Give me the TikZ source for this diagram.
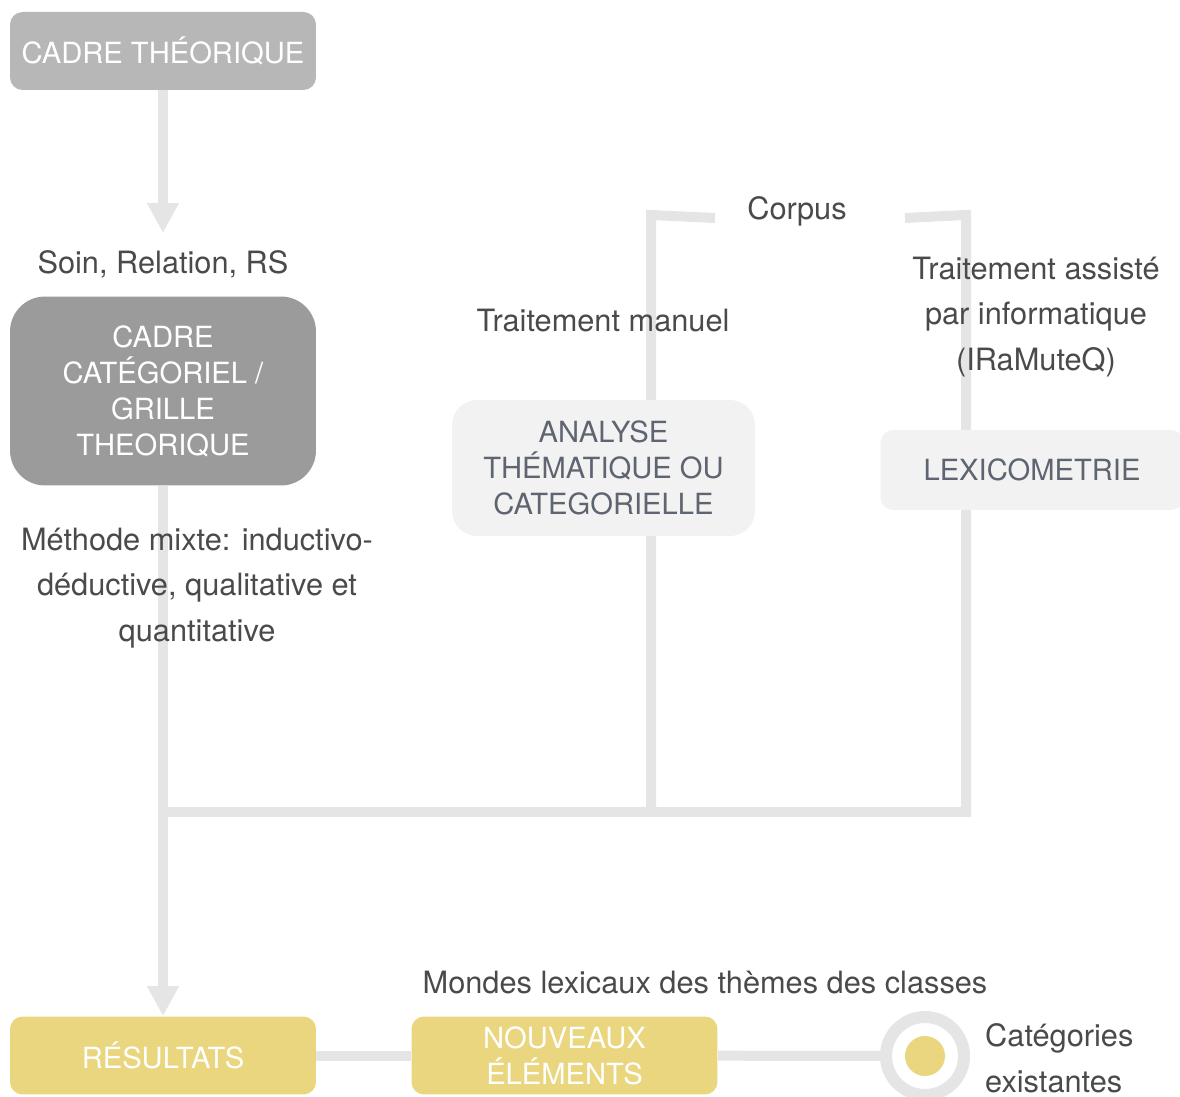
\documentclass[tikz,border=0pt]{standalone}
\usepackage{fontspec}
\setmainfont{TeX Gyre Heros}
\usetikzlibrary{arrows.meta,positioning}

\definecolor{trait}{HTML}{E5E5E5}
\definecolor{theo}{HTML}{B7B7B7}
\definecolor{categ}{HTML}{9B9B9B}
\definecolor{clair}{HTML}{F2F2F2}
\definecolor{jaune}{HTML}{E9D67E}
\definecolor{texte}{HTML}{4A4A4A}
\definecolor{texteboite}{HTML}{5E6570}

\begin{document}
\begin{tikzpicture}[x=0.02cm, y=-0.02cm,
   every node/.style={font=\fontsize{17.5}{26}\selectfont, text=texte, align=center},
   boite/.style={rounded corners=0.25cm, minimum width=6.12cm, minimum height=1.56cm,
                 text=white, font=\fontsize{16.6}{20.5}\selectfont},
   boiteclaire/.style={boite, fill=clair, text=texteboite, minimum width=6.06cm},
   lien/.style={draw=trait, line width=0.2cm},
   fleche/.style={lien, -{Triangle[width=0.6cm,length=0.6cm]}}]

\clip (0,0) rectangle (1180,1097);

% colonne de gauche
\node[boite, fill=theo] (theo) at (163,51) {CADRE THÉORIQUE};
\node (soin) at (163,264) {Soin, Relation, RS};
\node[boite, fill=categ, minimum height=3.78cm, rounded corners=0.7cm] (grille) at (163,391)
    {CADRE\\CATÉGORIEL /\\GRILLE\\THEORIQUE};
\node[boite, fill=jaune] (res) at (163,1055.5) {RÉSULTATS};

\draw[fleche, shorten >=0.22cm] (theo) -- (soin);
\draw[fleche] (grille) -- (res);

\node (methode) at (197,588) {Méthode mixte: inductivo-\\déductive, qualitative et\\quantitative};

% corpus
\coordinate (jonc) at (163,812);
\coordinate (hautg) at (715,218);
\coordinate (coing) at (651,215);
\coordinate (basg) at (651,812);
\coordinate (hautd) at (905,218);
\coordinate (coind) at (966,215);
\coordinate (basd) at (966,812);
\draw[lien] (hautg) -- (coing) -- (basg);
\draw[lien] (hautd) -- (coind) -- (basd) -- (jonc);

\node (corpus) at (797,211) {Corpus};
\node (manuel) at (603,321) {Traitement manuel};
\node (assiste) at (1036,317) {Traitement assisté\\par informatique\\(IRaMuteQ)};
\node[boiteclaire, minimum height=2.72cm, rounded corners=0.5cm] (analyse) at (603.5,468)
    {ANALYSE\\THÉMATIQUE OU\\CATEGORIELLE};
\node[boiteclaire, minimum height=1.6cm] (lexico) at (1032,470) {LEXICOMETRIE};

% resultats
\node (mondes) at (705,983) {Mondes lexicaux des thèmes des classes};
\node[boite, fill=jaune] (nouv) at (564.5,1055.5) {NOUVEAUX\\ÉLÉMENTS};
\node[circle, draw=trait, line width=0.24cm, minimum size=1.56cm] (cercle) at (925,1056) {};
\node[circle, fill=jaune, minimum size=0.8cm] (point) at (cercle) {};
\node[anchor=west, align=left] (existantes) at (979,1058) {Catégories\\existantes};

\draw[lien] (res) -- (nouv);
\draw[lien] (nouv) -- (cercle);

\end{tikzpicture}
\end{document}
